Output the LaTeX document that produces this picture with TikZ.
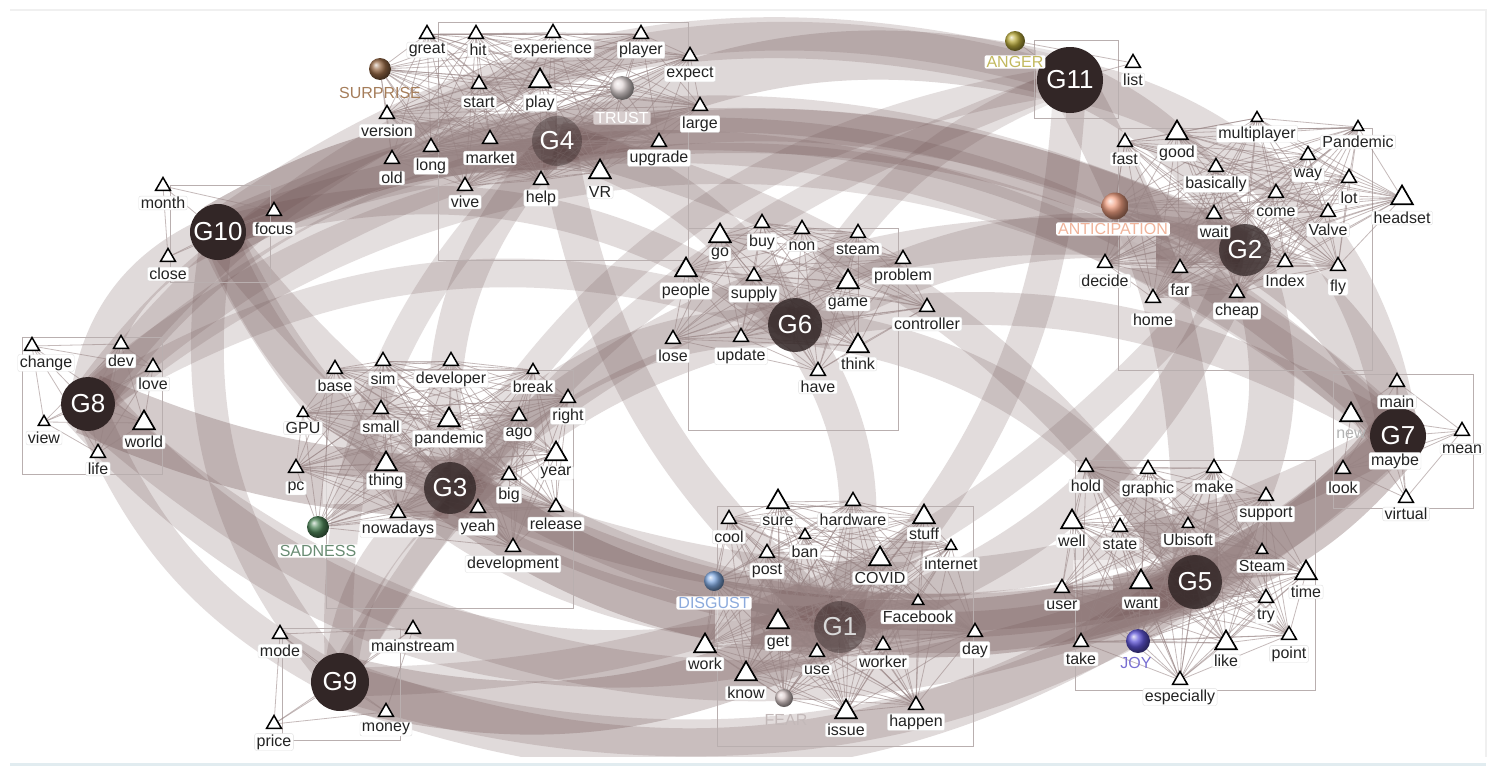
\documentclass[tikz,border=0pt]{standalone}
\usepackage{fontspec}
\setmainfont{Liberation Sans}
\usetikzlibrary{shapes.geometric,calc}
\pgfdeclarelayer{bglayer}
\pgfdeclarelayer{bandlayer}
\pgfdeclarelayer{edgelayer}
\pgfsetlayers{bglayer,bandlayer,edgelayer,main}
\definecolor{bandc}{RGB}{105,75,75}
\definecolor{hubc}{RGB}{50,38,38}
\definecolor{linkc}{RGB}{150,130,130}
\definecolor{txtc}{RGB}{35,35,35}
\definecolor{boxc}{RGB}{185,175,175}
\definecolor{surpS}{RGB}{150,105,70}\definecolor{surpT}{RGB}{165,125,90}
\definecolor{trustS}{RGB}{225,215,215}\definecolor{trustF}{RGB}{215,205,205}
\definecolor{angerS}{RGB}{185,170,60}\definecolor{angerT}{RGB}{195,185,95}
\definecolor{anticS}{RGB}{240,160,130}\definecolor{anticT}{RGB}{240,180,155}
\definecolor{sadS}{RGB}{80,135,90}\definecolor{sadT}{RGB}{105,140,115}
\definecolor{disgS}{RGB}{130,170,225}\definecolor{disgT}{RGB}{140,170,220}
\definecolor{fearS}{RGB}{220,205,205}\definecolor{fearT}{RGB}{195,185,185}
\definecolor{joyS}{RGB}{95,85,215}\definecolor{joyT}{RGB}{120,110,210}
\definecolor{framec}{RGB}{225,236,240}
\tikzset{
 tris/.style={regular polygon, regular polygon sides=3, draw=black, fill=white, line width=1.5pt, inner sep=0pt, minimum size=13pt},
 trim/.style={tris, minimum size=17pt},
 tril/.style={tris, minimum size=25pt, line width=1.7pt},
 lbl/.style={fill=white, rounded corners=2pt, inner xsep=2pt, inner ysep=1pt, text=txtc, font=\fontsize{16}{16}\selectfont, draw=black!12, line width=0.4pt},
 hubst/.style={circle, fill=hubc, text=white, text opacity=1, font=\fontsize{26}{26}\selectfont, inner sep=0pt},
 bandst/.style={draw=bandc},
 inlink/.style={draw=linkc, line width=0.8pt, draw opacity=0.55},
 grpbox/.style={draw=boxc, line width=0.6pt},
 emo/.style={circle, shade, inner sep=0pt, minimum size=#1},
 elbl/.style={font=\fontsize{16}{16}\selectfont, inner xsep=2pt, inner ysep=1pt, rounded corners=2pt},
}
\newcommand\wrd[7]{\node[tri#7] (#1) at (#2,#3) {};\node[lbl] (#1L) at (#4,#5) {#6};}
\newcommand\clique[1]{\foreach \a [count=\i] in {#1}{\foreach \b [count=\j] in {#1}{\ifnum\j>\i \draw[inlink] (\a) -- (\b);\fi}}}
\begin{document}
\begin{tikzpicture}[x=1pt,y=-1pt]
\useasboundingbox (0,0) rectangle (1496,774);
\begin{pgfonlayer}{bglayer}
\fill[white] (0,0) rectangle (1496,774);
\draw[black!6, line width=1.2pt] (10,10) -- (1486,10) -- (1486,763);
\end{pgfonlayer}
% hubs
\node[hubst, minimum size=52pt, fill opacity=0.45, text=black!15] (G1) at (840,627) {G1};
\node[hubst, minimum size=52pt, fill opacity=0.75] (G2) at (1245,250) {G2};
\node[hubst, minimum size=52pt, fill opacity=0.8] (G3) at (450,488) {G3};
\node[hubst, minimum size=50pt, fill opacity=0.4] (G4) at (557,141) {G4};
\node[hubst, minimum size=54pt, fill opacity=0.85] (G5) at (1195,582) {G5};
\node[hubst, minimum size=54pt, fill opacity=0.85] (G6) at (795,325) {G6};
\node[hubst, minimum size=56pt] (G7) at (1398,436) {G7};
\node[hubst, minimum size=54pt] (G8) at (88,404) {G8};
\node[hubst, minimum size=58pt] (G9) at (340,682) {G9};
\node[hubst, minimum size=56pt] (G10) at (218,232) {G10};
\node[hubst, minimum size=66pt] (G11) at (1070,80) {G11};
% emotions
\node[emo=22pt, ball color=surpS] (surprise) at (380,69) {};
\node[elbl, text=surpT] (surpriseL) at (380,93) {SURPRISE};
\node[emo=24pt, ball color=trustS] (trust) at (622,88) {};
\node[elbl, fill=trustF, text=white] (trustL) at (622,118) {TRUST};
\node[emo=20pt, ball color=angerS] (anger) at (1015,41) {};
\node[elbl, fill=white, text=angerT] (angerL) at (1015,62) {ANGER};
\node[emo=27pt, ball color=anticS] (anticipation) at (1115,206) {};
\node[elbl, fill=white, text=anticT] (anticipationL) at (1113,229) {ANTICIPATION};
\node[emo=22pt, ball color=sadS] (sadness) at (318,527) {};
\node[elbl, fill=white, text=sadT] (sadnessL) at (318,551) {SADNESS};
\node[emo=20pt, ball color=disgS] (disgust) at (714,581) {};
\node[elbl, fill=white, text=disgT] (disgustL) at (714,603) {DISGUST};
\node[emo=18pt, ball color=fearS] (fear) at (784,698) {};
\node[elbl, text=fearT] (fearL) at (786,720) {FEAR};
\node[emo=24pt, ball color=joyS] (joy) at (1138,641) {};
\node[elbl, text=joyT] (joyL) at (1136,663) {JOY};
% G4
\wrd{great}{427}{34}{427}{50}{great}{m}
\wrd{hit}{476}{34}{478}{50}{hit}{m}
\wrd{experience}{553}{33}{553}{49}{experience}{m}
\wrd{player}{641}{34}{641}{50}{player}{m}
\wrd{expect}{690}{56}{690}{74}{expect}{m}
\wrd{start}{479}{84}{479}{102}{start}{m}
\wrd{play}{540}{81}{540}{103}{play}{l}
\wrd{large}{700}{106}{700}{124}{large}{m}
\wrd{version}{387}{114}{387}{131}{version}{m}
\wrd{long}{431}{147}{431}{166}{long}{m}
\wrd{old}{392}{159}{392}{178}{old}{m}
\wrd{market}{490}{139}{490}{158}{market}{m}
\wrd{upgrade}{659}{142}{659}{158}{upgrade}{m}
\wrd{VR}{600}{172}{600}{192}{VR}{l}
\wrd{help}{541}{180}{541}{198}{help}{m}
\wrd{vive}{465}{186}{465}{202}{vive}{m}
% G10, G11
\wrd{month}{163}{186}{163}{203}{month}{m}
\wrd{focus}{274}{211}{274}{229}{focus}{m}
\wrd{close}{168}{257}{168}{274}{close}{m}
\wrd{list}{1133}{63}{1133}{80}{list}{m}
% G2
\wrd{fast}{1125}{142}{1125}{159}{fast}{m}
\wrd{good}{1177}{133}{1177}{153}{good}{l}
\wrd{multiplayer}{1257}{118}{1257}{134}{multiplayer}{s}
\wrd{PandemicU}{1358}{127}{1358}{142}{Pandemic}{s}
\wrd{basically}{1216}{167}{1216}{184}{basically}{m}
\wrd{way}{1308}{155}{1308}{175}{way}{m}
\wrd{lot}{1349}{178}{1349}{198}{lot}{m}
\wrd{come}{1276}{193}{1276}{212}{come}{m}
\wrd{headset}{1402}{198}{1402}{218}{headset}{l}
\wrd{Valve}{1328}{212}{1328}{230}{Valve}{m}
\wrd{wait}{1214}{214}{1214}{232}{wait}{m}
\wrd{decide}{1105}{263}{1105}{281}{decide}{m}
\wrd{far}{1180}{268}{1180}{290}{far}{m}
\wrd{Index}{1285}{262}{1285}{281}{Index}{m}
\wrd{fly}{1338}{266}{1338}{287}{fly}{m}
\wrd{home}{1153}{298}{1153}{320}{home}{m}
\wrd{cheap}{1237}{293}{1237}{311}{cheap}{m}
% G6
\wrd{go}{720}{236}{720}{254}{go}{l}
\wrd{buy}{762}{223}{762}{242}{buy}{m}
\wrd{non}{802}{229}{802}{246}{non}{m}
\wrd{steam}{858}{233}{858}{249}{steam}{m}
\wrd{problem}{903}{259}{903}{276}{problem}{m}
\wrd{people}{686}{270}{686}{291}{people}{l}
\wrd{supply}{754}{276}{754}{294}{supply}{m}
\wrd{game}{848}{282}{848}{304}{game}{l}
\wrd{controller}{927}{307}{927}{324}{controller}{m}
\wrd{lose}{673}{339}{673}{356}{lose}{m}
\wrd{update}{741}{337}{741}{356}{update}{m}
\wrd{think}{858}{346}{858}{364}{think}{l}
\wrd{have}{818}{371}{818}{387}{have}{m}
% G8
\wrd{change}{32}{346}{46}{363}{change}{m}
\wrd{dev}{121}{344}{121}{361}{dev}{m}
\wrd{love}{153}{367}{153}{384}{love}{m}
\wrd{view}{44}{422}{44}{438}{view}{s}
\wrd{world}{144}{423}{144}{442}{world}{l}
\wrd{life}{98}{453}{98}{469}{life}{m}
% G3
\wrd{base}{335}{369}{335}{386}{base}{m}
\wrd{sim}{383}{361}{383}{379}{sim}{m}
\wrd{developer}{451}{361}{451}{379}{developer}{m}
\wrd{break}{533}{370}{533}{387}{break}{s}
\wrd{right}{568}{398}{568}{416}{right}{m}
\wrd{GPU}{303}{413}{303}{428}{GPU}{s}
\wrd{small}{381}{409}{381}{427}{small}{m}
\wrd{pandemic}{449}{420}{449}{439}{pandemic}{l}
\wrd{ago}{519}{416}{519}{434}{ago}{m}
\wrd{year}{556}{454}{556}{473}{year}{l}
\wrd{pc}{296}{468}{296}{488}{pc}{m}
\wrd{thing}{386}{464}{386}{481}{thing}{l}
\wrd{big}{509}{475}{509}{495}{big}{m}
\wrd{release}{556}{507}{556}{524}{release}{m}
\wrd{nowadays}{398}{513}{398}{529}{nowadays}{m}
\wrd{yeah}{478}{508}{478}{527}{yeah}{m}
\wrd{development}{513}{547}{513}{564}{development}{m}
% G9
\wrd{mode}{280}{634}{280}{651}{mode}{m}
\wrd{mainstream}{413}{629}{413}{646}{mainstream}{m}
\wrd{price}{274}{724}{274}{742}{price}{m}
\wrd{money}{386}{712}{386}{729}{money}{m}
% G1
\wrd{cool}{729}{519}{729}{537}{cool}{m}
\wrd{sure}{778}{502}{778}{521}{sure}{l}
\wrd{hardware}{853}{501}{853}{520}{hardware}{m}
\wrd{stuff}{924}{517}{924}{534}{stuff}{l}
\wrd{ban}{805}{535}{805}{552}{ban}{s}
\wrd{post}{767}{553}{767}{571}{post}{m}
\wrd{internet}{951}{546}{951}{564}{internet}{s}
\wrd{COVID}{880}{559}{880}{578}{COVID}{l}
\wrd{Facebook}{918}{601}{918}{617}{Facebook}{s}
\wrd{get}{778}{622}{778}{643}{get}{l}
\wrd{day}{975}{632}{975}{650}{day}{m}
\wrd{work}{705}{646}{705}{664}{work}{l}
\wrd{use}{817}{652}{817}{670}{use}{m}
\wrd{worker}{883}{645}{883}{662}{worker}{m}
\wrd{know}{746}{674}{746}{693}{know}{l}
\wrd{issue}{846}{712}{846}{730}{issue}{l}
\wrd{happen}{916}{705}{916}{722}{happen}{m}
% G5
\wrd{hold}{1086}{467}{1086}{486}{hold}{m}
\wrd{graphic}{1148}{469}{1148}{489}{graphic}{m}
\wrd{make}{1214}{468}{1214}{487}{make}{m}
\wrd{support}{1266}{496}{1266}{514}{support}{m}
\wrd{well}{1072}{522}{1072}{541}{well}{l}
\wrd{state}{1120}{527}{1120}{544}{state}{m}
\wrd{Ubisoft}{1188}{524}{1188}{540}{Ubisoft}{s}
\wrd{SteamU}{1262}{550}{1262}{566}{Steam}{s}
\wrd{time}{1306}{573}{1306}{592}{time}{l}
\wrd{user}{1062}{588}{1062}{605}{user}{m}
\wrd{want}{1141}{582}{1141}{603}{want}{l}
\wrd{try}{1266}{598}{1266}{616}{try}{m}
\wrd{take}{1081}{642}{1081}{659}{take}{m}
\wrd{like}{1226}{643}{1226}{661}{like}{l}
\wrd{point}{1289}{635}{1289}{654}{point}{m}
\wrd{especially}{1180}{680}{1180}{697}{especially}{m}
% G7
\wrd{main}{1397}{382}{1397}{402}{main}{m}
\node[tril] (new) at (1351,415) {};
\node[lbl, fill=none, draw=none, text=black!30] (newL) at (1351,434) {new};
\wrd{mean}{1462}{431}{1462}{449}{mean}{m}
\node[lbl] (maybe) at (1395,461) {maybe};
\wrd{look}{1343}{469}{1343}{488}{look}{m}
\wrd{virtual}{1406}{498}{1406}{514}{virtual}{m}
% bands
\begin{pgfonlayer}{bandlayer}
\foreach \a/\b/\w/\ang/\op in {
G10/G4/28/15/.5, G8/G3/30/-10/.42, G3/G1/30/-15/.42, G1/G5/28/-10/.45,
G5/G7/28/-15/.45, G9/G1/26/-20/.38, G2/G7/24/20/.32, G4/G6/20/20/.28,
G6/G2/22/20/.28, G4/G11/24/20/.32, G4/G2/22/15/.3, G10/G11/20/25/.28,
G10/G2/18/25/.28, G8/G4/20/25/.28, G8/G10/18/30/.3, G8/G1/28/-32/.3,
G8/G5/20/-33/.28, G10/G1/20/-33/.28, G10/G5/18/-33/.28, G10/G9/16/-25/.28,
G8/G9/16/-20/.28, G3/G5/22/-20/.3, G3/G6/18/25/.28, G3/G2/18/25/.28,
G3/G7/18/-25/.28, G9/G5/22/-27/.3, G9/G3/16/25/.28, G9/G6/14/25/.28,
G6/G1/18/25/.28, G6/G5/18/25/.28, G6/G7/16/20/.28, G11/G2/20/20/.3,
G11/G5/22/15/.3, G11/G7/20/35/.28, G11/G1/16/20/.28, G2/G5/22/30/.3,
G2/G1/18/25/.28, G4/G1/18/-20/.28, G4/G5/16/20/.28, G4/G7/16/25/.28,
G8/G7/20/42/.26, G8/G2/16/35/.26, G9/G7/18/-30/.28, G1/G7/20/-25/.3,
G4/G3/16/-25/.28, G10/G3/16/-20/.28, G10/G6/14/25/.28, G3/G11/14/25/.26,
G6/G11/14/20/.26, G9/G2/14/-25/.26, G10/G7/16/30/.26, G8/G6/14/25/.26,
G8/G11/14/35/.26, G9/G4/14/25/.26, G9/G11/12/20/.26}
{\pgfmathsetmacro\nang{-1*\ang}
 \pgfmathsetmacro\lw{2.05*\w}
 \pgfmathsetmacro\opv{0.68*\op}
 \draw[bandst, line width=\lw pt, draw opacity=\opv] (\a.center) .. controls ($(\a.center)!0.39!\ang:(\b.center)$) and ($(\b.center)!0.39!\nang:(\a.center)$) .. (\b.center);}
\end{pgfonlayer}
% boxes, squares and links
\begin{pgfonlayer}{edgelayer}
\fill[white] (0,757) rectangle (1496,774);
\draw[framec, line width=3pt] (10,764) -- (1486,764);
\draw[grpbox] (438,22) rectangle (688,260);
\draw[grpbox] (170,185) rectangle (270,282);
\draw[grpbox] (1034,40) rectangle (1118,118);
\draw[grpbox] (1118,128) rectangle (1372,370);
\draw[grpbox] (688,228) rectangle (898,430);
\draw[grpbox] (22,337) rectangle (162,474);
\draw[grpbox] (326,370) rectangle (573,608);
\draw[grpbox] (282,628) rectangle (400,740);
\draw[grpbox] (717,506) rectangle (973,746);
\draw[grpbox] (1075,460) rectangle (1315,690);
\draw[grpbox] (1333,374) rectangle (1473,508);
\fill[white, fill opacity=0.45] (323,476) rectangle (363,504);
\fill[white, fill opacity=0.45] (715,604) rectangle (751,646);
\fill[white, fill opacity=0.45] (1120,228) rectangle (1156,268);
\fill[white, fill opacity=0.45] (1073,560) rectangle (1113,590);
\fill[white, fill opacity=0.35] (1036,42) rectangle (1066,118);
\clique{G4,surprise,trust,great,hit,experience,player,expect,start,play,large,version,long,old,market,upgrade,VR,help,vive}
\clique{G10,month,focus,close}
\clique{G11,anger,list}
\clique{G2,anticipation,fast,good,multiplayer,PandemicU,basically,way,lot,come,headset,Valve,wait,decide,far,Index,fly,home,cheap}
\clique{G6,go,buy,non,steam,problem,people,supply,game,controller,lose,update,think,have}
\clique{G8,change,dev,love,view,world,life}
\clique{G3,sadness,base,sim,developer,break,right,GPU,small,pandemic,ago,year,pc,thing,big,release,nowadays,yeah,development}
\clique{G9,mode,mainstream,price,money}
\clique{G1,disgust,fear,cool,sure,hardware,stuff,ban,post,internet,COVID,Facebook,get,day,work,use,worker,know,issue,happen}
\clique{G5,joy,hold,graphic,make,support,well,state,Ubisoft,SteamU,time,user,want,try,take,like,point,especially}
\clique{G7,main,new,mean,maybe,look,virtual}
\end{pgfonlayer}
\end{tikzpicture}
\end{document}
